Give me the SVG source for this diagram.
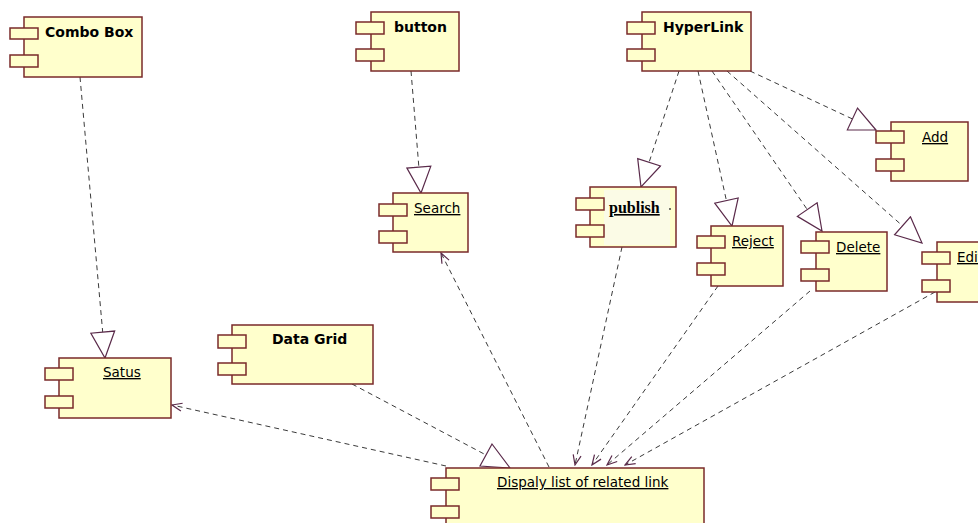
<svg xmlns="http://www.w3.org/2000/svg" width="978" height="523" viewBox="0 0 978 523">
<style>
.body{fill:#FFFFCC;stroke:#7a2a2a;stroke-width:1.5}
.port{fill:#FFFFCC;stroke:#7a2a2a;stroke-width:1.5}
.b{font-family:"DejaVu Sans",Verdana,sans-serif;font-weight:bold;font-size:14px;fill:#000}
.u{font-family:"DejaVu Sans",Verdana,sans-serif;font-size:13.5px;fill:#000;text-decoration:underline}
.s{font-family:"Liberation Serif","Times New Roman",serif;font-weight:bold;font-size:16px;fill:#000;text-decoration:underline}
.conn{fill:none;stroke:#3a3a3a;stroke-width:1;stroke-dasharray:5,4}
.tri{fill:#fff;stroke:#5a2a4a;stroke-width:1.2}
</style>
<defs>
<marker id="gen" markerUnits="userSpaceOnUse" viewBox="0 0 28 26" refX="27" refY="13" markerWidth="28" markerHeight="26" orient="auto">
<path d="M1,1 L27,13 L1,25 Z" fill="#fff" stroke="#5a2a4a" stroke-width="1.2"/>
</marker>
<marker id="open" markerUnits="userSpaceOnUse" viewBox="0 0 12 10" refX="11" refY="5" markerWidth="12" markerHeight="10" orient="auto">
<path d="M1,1 L11,5 L1,9" fill="none" stroke="#5a2a4a" stroke-width="1.2"/>
</marker>
</defs>

<g id="connectors">
<path class="conn" d="M80,77 L105,358" marker-end="url(#gen)"/>
<path class="conn" d="M411,71 L421,193" marker-end="url(#gen)"/>
<path class="conn" d="M679,71 L641,187" marker-end="url(#gen)"/>
<path class="conn" d="M698,71 L732,226" marker-end="url(#gen)"/>
<path class="conn" d="M712,71 L822,231" marker-end="url(#gen)"/>
<path class="conn" d="M727,71 L922,243" marker-end="url(#gen)"/>
<path class="conn" d="M750,71 L876,130" marker-end="url(#gen)"/>
<path class="conn" d="M352,384 L486,455"/>
<polygon class="tri" points="492,444 480,466 510,468"/>
<path class="conn" d="M446,466 L172,405" marker-end="url(#open)"/>
<path class="conn" d="M549,467 L441,253" marker-end="url(#open)"/>
<path class="conn" d="M622,247 L575,465" marker-end="url(#open)"/>
<path class="conn" d="M718,286 L592,465" marker-end="url(#open)"/>
<path class="conn" d="M810,291 L607,465" marker-end="url(#open)"/>
<path class="conn" d="M935,292 L625,465" marker-end="url(#open)"/>
</g>

<g id="combo-box">
<rect class="body" x="24" y="17" width="118" height="60"/>
<rect class="port" x="10" y="28" width="28" height="11"/>
<rect class="port" x="10" y="55" width="28" height="12"/>
<text class="b" x="45" y="37">Combo Box</text>
</g>

<g id="button">
<rect class="body" x="371" y="12" width="88" height="59"/>
<rect class="port" x="356" y="22" width="28" height="12"/>
<rect class="port" x="356" y="49" width="28" height="12"/>
<text class="b" x="394" y="32">button</text>
</g>

<g id="hyperlink">
<rect class="body" x="642" y="12" width="109" height="59"/>
<rect class="port" x="627" y="22" width="28" height="12"/>
<rect class="port" x="627" y="49" width="28" height="12"/>
<text class="b" x="663" y="32">HyperLink</text>
</g>

<g id="search">
<rect class="body" x="393" y="193" width="75" height="59"/>
<rect class="port" x="379" y="204" width="28" height="12"/>
<rect class="port" x="379" y="231" width="28" height="12"/>
<text class="u" x="414" y="213">Search</text>
</g>

<g id="publish">
<rect class="body" x="590" y="187" width="86" height="60"/>
<rect x="604" y="190" width="66" height="55" fill="#FBFBE6"/>
<rect class="port" x="576" y="198" width="28" height="12"/>
<rect class="port" x="576" y="225" width="28" height="12"/>
<text class="s" x="609" y="213">publish</text>
<circle cx="670" cy="209" r="0.9" fill="#333"/>
</g>

<g id="reject">
<rect class="body" x="711" y="226" width="72" height="60"/>
<rect class="port" x="697" y="236" width="28" height="12"/>
<rect class="port" x="697" y="263" width="28" height="12"/>
<text class="u" x="732" y="246">Reject</text>
</g>

<g id="delete">
<rect class="body" x="816" y="232" width="71" height="59"/>
<rect class="port" x="801" y="241" width="28" height="12"/>
<rect class="port" x="801" y="269" width="28" height="12"/>
<text class="u" x="836" y="252">Delete</text>
</g>

<g id="add">
<rect class="body" x="891" y="122" width="77" height="59"/>
<rect class="port" x="876" y="131" width="28" height="12"/>
<rect class="port" x="876" y="159" width="28" height="12"/>
<text class="u" x="922" y="142">Add</text>
</g>

<g id="edit">
<rect class="body" x="937" y="242" width="70" height="60"/>
<rect class="port" x="922" y="252" width="28" height="12"/>
<rect class="port" x="922" y="280" width="28" height="12"/>
<text class="u" x="957" y="262">Edit</text>
</g>

<g id="satus">
<rect class="body" x="59" y="358" width="112" height="60"/>
<rect class="port" x="45" y="368" width="28" height="12"/>
<rect class="port" x="45" y="396" width="28" height="12"/>
<text class="u" x="103" y="377">Satus</text>
</g>

<g id="data-grid">
<rect class="body" x="232" y="325" width="141" height="59"/>
<rect class="port" x="218" y="335" width="28" height="13"/>
<rect class="port" x="218" y="363" width="28" height="12"/>
<text class="b" x="272" y="344">Data Grid</text>
</g>

<g id="display-list">
<rect class="body" x="446" y="468" width="258" height="70"/>
<rect class="port" x="431" y="478" width="28" height="12"/>
<rect class="port" x="431" y="506" width="28" height="12"/>
<text class="u" x="497" y="487">Dispaly list of related link</text>
</g>
</svg>
